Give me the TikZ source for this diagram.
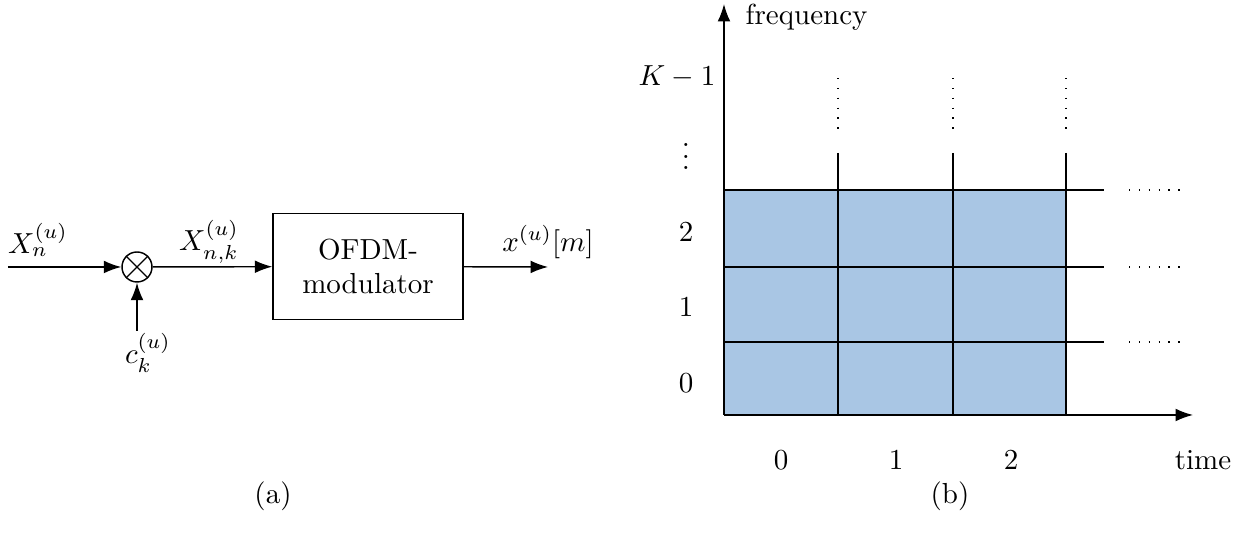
\documentclass[tikz,border=0pt]{standalone}
\usetikzlibrary{arrows.meta}
\definecolor{cellblue}{RGB}{169,198,228}
\begin{document}
\begin{tikzpicture}[x=0.3448pt,y=-0.3448pt,
  line width=0.5pt,
  arr/.style={-{Latex[length=6pt,width=4.4pt]}},
  blk/.style={draw,minimum width=190*0.3448pt,minimum height=106*0.3448pt,inner sep=0pt,align=center},
  mul/.style={draw,circle,minimum size=30*0.3448pt,inner sep=0pt},
  lbl/.style={inner sep=0pt},
  grid/.style={line width=0.45pt},
  dots/.style={line width=0.45pt,dash pattern=on 0.45pt off 2.95pt}]
\useasboundingbox (0,0) rectangle (1245,542);
% ---------- (a) ----------
\coordinate (in) at (8,267);
\node[mul] (mult) at (137,267) {};
\draw[line width=0.4pt] (mult.north west) -- (mult.south east) (mult.north east) -- (mult.south west);
\coordinate (cin) at (137,331);
\node[blk] (mod) at (368,266.5) {OFDM-\\modulator};
\coordinate (out) at (548,267);
\draw[arr] (in) -- (mult);
\draw[arr] (cin) -- (mult);
\draw[arr] (mult) -- (mod);
\draw[arr] (mod) -- (out);
\node[lbl] (lXn) at (38,240) {$X_n^{(u)}$};
\node[lbl] (lXnk) at (209,242) {$X_{n,k}^{(u)}$};
\node[lbl] (lc) at (148,353) {$c_k^{(u)}$};
\node[lbl] (lx) at (548,242) {$x^{(u)}[m]$};
\node[lbl] (capa) at (273,496) {(a)};
% ---------- (b) ----------
\fill[cellblue] (724,190) rectangle (1066,415);
\foreach \xx in {838,953,1066}{
  \draw[grid] (\xx,153) -- (\xx,415);
  \draw[dots] (\xx,78) -- (\xx,131);
}
\foreach \yy in {190,267,342}{
  \draw[grid] (724,\yy) -- (1104,\yy);
  \draw[dots] (1129,\yy) -- (1182,\yy);
}
\coordinate (org) at (724,415);
\coordinate (ftop) at (724,4);
\coordinate (tend) at (1193,415);
\draw[arr] (org) -- (ftop);
\draw[arr] (org) -- (tend);
\node[lbl,anchor=west] (lfreq) at (745,17) {frequency};
\node[lbl] (ltime) at (1203,460) {time};
\node[lbl] (lK) at (677,77) {$K-1$};
\node[lbl] (lvd) at (686,148) {$\vdots$};
\node[lbl] (f2) at (686,232) {2};
\node[lbl] (f1) at (686,307) {1};
\node[lbl] (f0) at (686,383) {0};
\node[lbl] (t0) at (781,460) {0};
\node[lbl] (t1) at (896,460) {1};
\node[lbl] (t2) at (1011,460) {2};
\node[lbl] (capb) at (950,496) {(b)};
\end{tikzpicture}
\end{document}
